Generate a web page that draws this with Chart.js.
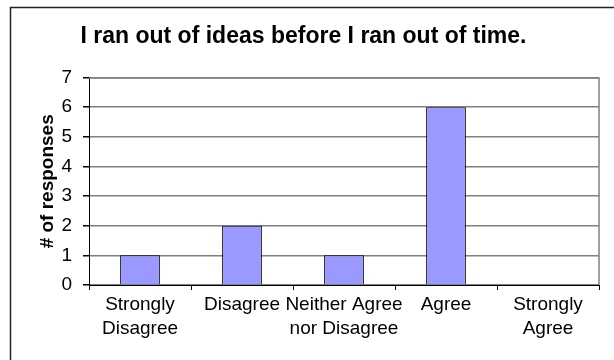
<!DOCTYPE html>
<html>
<head>
<meta charset="utf-8">
<script src="https://cdn.jsdelivr.net/npm/chart.js@4/dist/chart.umd.min.js"></script>
<style>
  html, body { margin: 0; padding: 0; background: #fff; }
  #wrap { position: relative; width: 614px; height: 360px; }
</style>
</head>
<body>
<div id="wrap"><canvas id="chart" width="614" height="360"></canvas></div>
<script>
const categories = [['Strongly', 'Disagree'], 'Disagree', ['Neither Agree', 'nor Disagree'], 'Agree', ['Strongly', 'Agree']];
const responses = [1, 2, 1, 6, 0];
const yTicks = [0, 1, 2, 3, 4, 5, 6, 7];

const FONT = 'Arial, "Liberation Sans", sans-serif';

// outer frame + grey plot border like the Excel chart
const framePlugin = {
  id: 'frame',
  beforeDraw(chart) {
    const ctx = chart.ctx;
    ctx.save();
    ctx.fillStyle = '#fff';
    ctx.fillRect(0, 0, chart.width, chart.height);
    ctx.strokeStyle = '#222';
    ctx.lineWidth = 1.5;
    ctx.strokeRect(10.5, 7.5, 700, 400);
    ctx.restore();
  },
  afterDatasetsDraw(chart) {
    const a = chart.chartArea;
    const ctx = chart.ctx;
    ctx.save();
    ctx.strokeStyle = '#808080';
    ctx.lineWidth = 1.5;
    ctx.beginPath();
    ctx.moveTo(Math.round(a.left), Math.round(a.top));
    ctx.lineTo(Math.round(a.right), Math.round(a.top));
    ctx.lineTo(Math.round(a.right), Math.round(a.bottom));
    ctx.stroke();
    ctx.restore();
  }
};

new Chart(document.getElementById('chart'), {
  type: 'bar',
  data: {
    labels: categories,
    datasets: [{
      data: responses,
      backgroundColor: '#9999FF',
      borderColor: '#000',
      borderWidth: 1,
      barPercentage: 0.39,
      categoryPercentage: 1
    }]
  },
  options: {
    responsive: false,
    animation: false,
    layout: { padding: { left: 8, right: 15, top: 10, bottom: 15 } },
    plugins: {
      legend: { display: false },
      tooltip: { enabled: false },
      title: {
        display: true,
        text: 'I ran out of ideas before I ran out of time.',
        color: '#000',
        font: { family: FONT, size: 23, weight: 'bold', lineHeight: 1.2 },
        padding: { top: 13, bottom: 27 }
      }
    },
    scales: {
      x: {
        afterFit(scale) { scale.height = 60; },
        grid: {
          offset: true,
          drawOnChartArea: false,
          drawTicks: true,
          tickLength: 5,
          color: '#000'
        },
        border: { color: '#000', width: 1 },
        ticks: {
          color: '#000',
          font: { family: FONT, size: 19, lineHeight: 1.27 },
          maxRotation: 0,
          autoSkip: false,
          padding: 3
        }
      },
      y: {
        min: 0,
        max: 7,
        afterFit(scale) { scale.width = 81; },
        afterBuildTicks(scale) { scale.ticks = yTicks.map(v => ({ value: v })); },
        grid: {
          color: '#808080',
          lineWidth: 1.5,
          tickColor: '#000',
          tickLength: 6
        },
        border: { color: '#000', width: 1 },
        ticks: {
          color: '#000',
          font: { family: FONT, size: 19 },
          padding: 11
        },
        title: {
          display: true,
          text: '# of responses',
          color: '#000',
          font: { family: FONT, size: 19, weight: 'bold', lineHeight: 1.2 },
          padding: { top: 28, bottom: 0 }
        }
      }
    }
  },
  plugins: [framePlugin]
});
</script>
</body>
</html>
